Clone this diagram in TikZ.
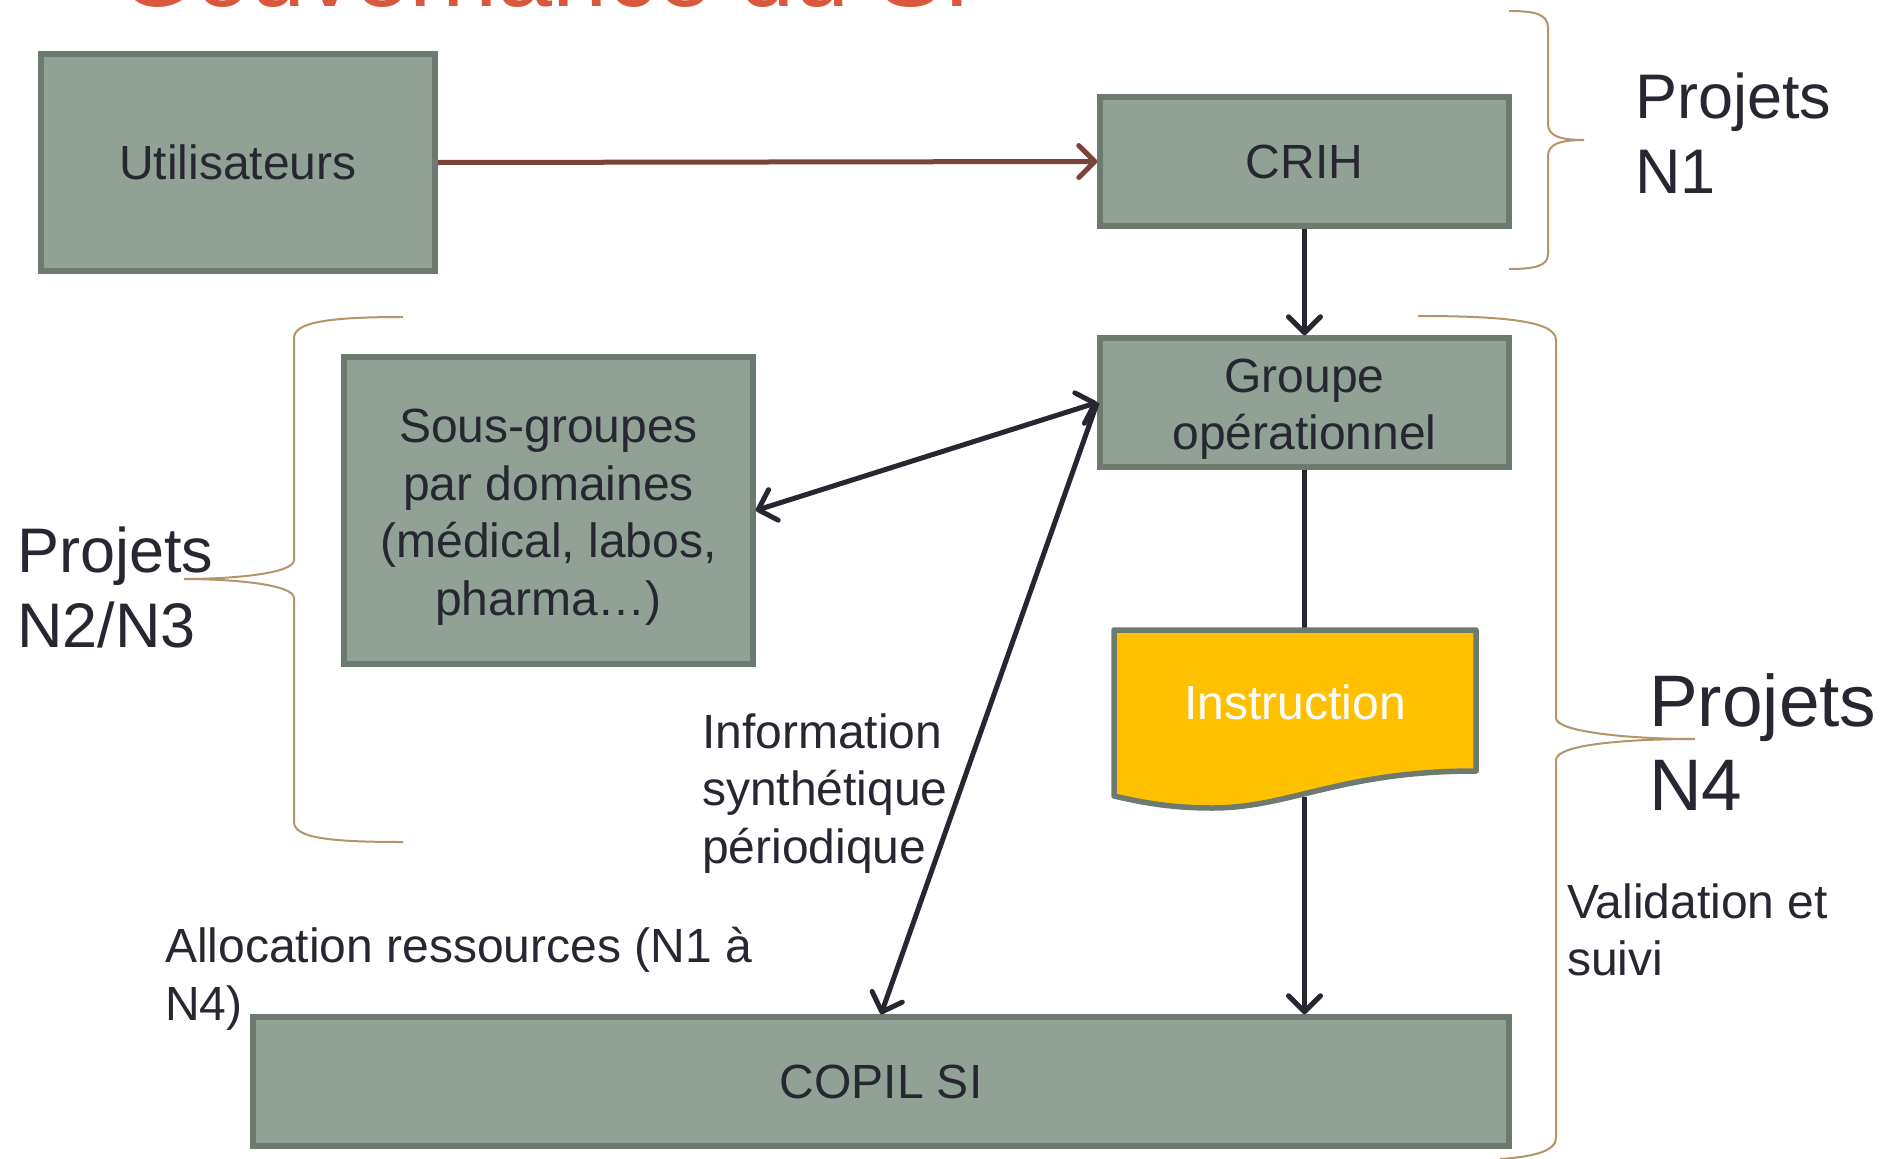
\documentclass[tikz,border=0pt]{standalone}
\usepackage{fontspec}
\setmainfont{Liberation Sans}
\usetikzlibrary{arrows.meta}
\definecolor{boxfill}{HTML}{91A196}
\definecolor{boxline}{HTML}{6D7A70}
\definecolor{ink}{HTML}{272731}
\definecolor{brownarr}{HTML}{7B4439}
\definecolor{bracec}{HTML}{B5946A}
\definecolor{gold}{HTML}{FFC000}
\definecolor{titlered}{HTML}{D8573D}
\newcommand{\tstrut}{\rule{0pt}{47pt}}
\begin{document}
\begin{tikzpicture}[x=1pt,y=-1pt,
 box/.style={draw=boxline, line width=5.5pt, fill=boxfill, text=ink, align=center, inner sep=0pt, font=\fontsize{48}{57.5}\selectfont},
 lbl/.style={text=ink, align=left, inner sep=0pt, font=\fontsize{48}{57.5}\selectfont, anchor=west},
 big/.style={text=ink, align=left, inner sep=0pt, font=\fontsize{63}{75}\selectfont, anchor=west},
 tip/.tip={Straight Barb[length=16pt,width=32pt,line cap=round,line join=round]},
 conn/.style={draw=ink, line width=5pt, -tip},
 brace/.style={draw=bracec, line width=2pt},
]
\useasboundingbox (0,0) rectangle (1899,1159);
\fill[white] (0,0) rectangle (1899,1159);
\begin{scope}
\clip (0,0) rectangle (1899,1159);
\node[anchor=base west, text=titlered, inner sep=0pt, font=\fontsize{99}{110}\selectfont] (title) at (118,6) {Gouvernance du SI};
\end{scope}

% boxes
\node[box, minimum width=394pt, minimum height=217pt] (util) at (238,162.5) {Utilisateurs};
\node[box, minimum width=409pt, minimum height=129pt] (crih) at (1304.5,161.5) {CRIH};
\node[box, minimum width=409pt, minimum height=129pt] (grp) at (1304.5,402.5) {\tstrut Groupe\\opérationnel};
\node[box, minimum width=409pt, minimum height=307pt] (sous) at (548.5,510.5) {\tstrut Sous-groupes\\par domaines\\(médical, labos,\\pharma…)};
\node[box, minimum width=1256pt, minimum height=129pt] (copil) at (881,1081.5) {COPIL SI};

% connectors
\coordinate (instrtop) at (1304.5,630);
\coordinate (instrbot) at (1304.5,797);
\draw[draw=ink, line width=5pt] (grp.south) -- (instrtop);
\draw[conn] (crih.south) -- (grp.north);
\draw[conn] (instrbot) -- (instrbot |- copil.north);
\draw[conn, draw=brownarr] (util.east) -- (crih.west);
\draw[conn, tip-tip] (sous.east) -- (grp.west);
\draw[conn] (grp.west) -- (copil.north);

% instruction document
\draw[draw=boxline, line width=5.5pt, fill=gold, line join=round] (1114,630) -- (1476,630) -- (1476,771) .. controls (1340,771) and (1290,808) .. (1212,808) .. controls (1170,808) and (1140,802) .. (1114,796) -- cycle;
\node[text=white, inner sep=0pt, font=\fontsize{48}{57.5}\selectfont] (instr) at (1295,702) {Instruction};

% labels
\node[lbl] (info) at (702,787) {\tstrut Information\\synthétique\\périodique};
\node[lbl] (alloc) at (165,973) {\tstrut Allocation ressources (N1 à\\N4)};
\node[lbl] (valid) at (1567,930) {Validation et\\suivi};
\node[big] (p1) at (1635,133) {Projets\\N1};
\node[big] (p23) at (17,587) {Projets\\N2/N3};
\node[big, font=\fontsize{73}{84}\selectfont] (p4) at (1649,742) {Projets\\N4};

% braces
\draw[brace] (1509,11) .. controls (1535,11) and (1548,14) .. (1548,28) -- (1548,124) .. controls (1548,136) and (1560,140) .. (1584,140) .. controls (1560,140) and (1548,144) .. (1548,156) -- (1548,254) .. controls (1548,266) and (1535,269) .. (1509,269);
\draw[brace] (403,317) .. controls (330,317) and (294,322) .. (294,338) -- (294,560) .. controls (294,574) and (230,579) .. (184,579) .. controls (230,579) and (294,584) .. (294,598) -- (294,822) .. controls (294,838) and (330,842) .. (403,842);
\draw[brace] (1418,316) .. controls (1510,316) and (1556,322) .. (1556,340) -- (1556,718) .. controls (1556,732) and (1630,739) .. (1695,739) .. controls (1630,739) and (1556,744) .. (1556,760) -- (1556,1138) .. controls (1556,1152) and (1530,1157) .. (1500,1159);
\end{tikzpicture}
\end{document}
